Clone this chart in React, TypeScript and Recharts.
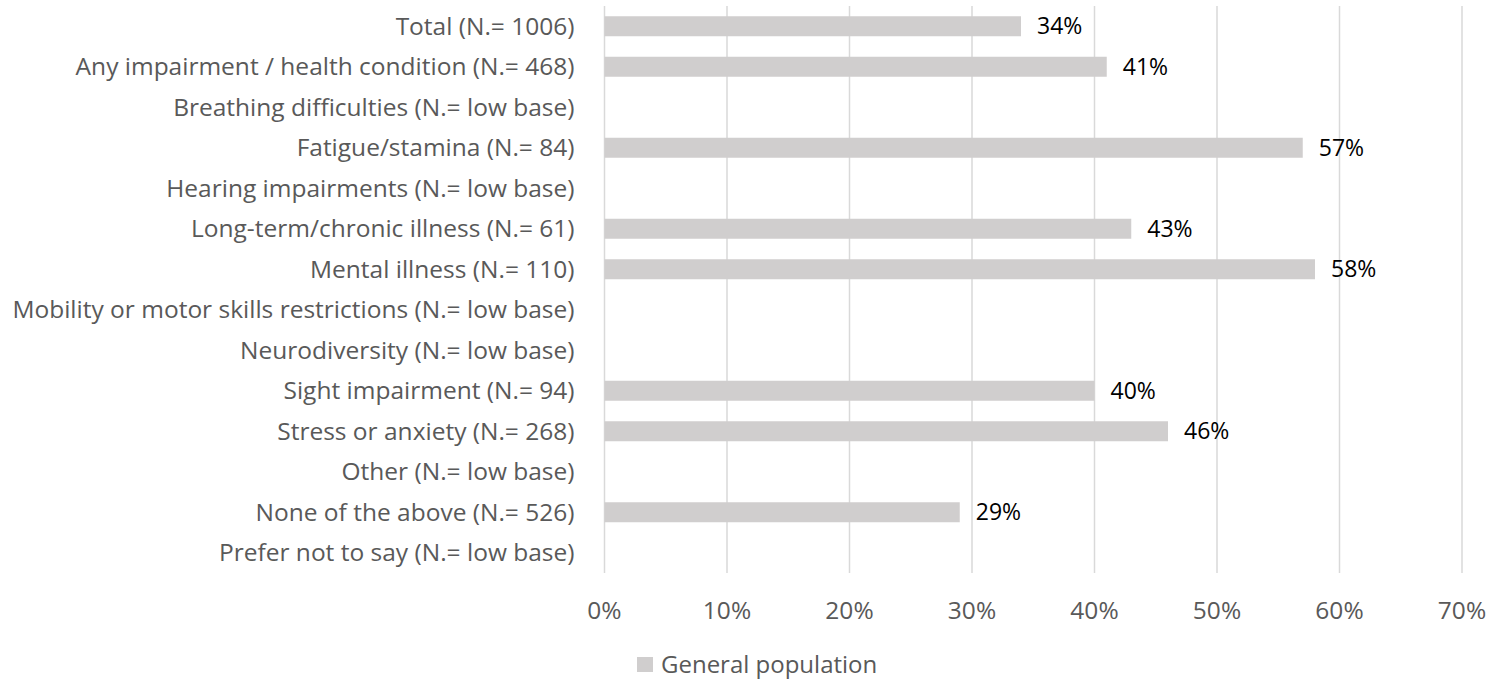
import React from 'react';
import { BarChart, Bar, XAxis, YAxis, CartesianGrid, Legend, LabelList } from 'recharts';

const categories: string[] = [
  'Total (N.= 1006)',
  'Any impairment / health condition (N.= 468)',
  'Breathing difficulties (N.= low base)',
  'Fatigue/stamina (N.= 84)',
  'Hearing impairments (N.= low base)',
  'Long-term/chronic illness (N.= 61)',
  'Mental illness (N.= 110)',
  'Mobility or motor skills restrictions (N.= low base)',
  'Neurodiversity (N.= low base)',
  'Sight impairment (N.= 94)',
  'Stress or anxiety (N.= 268)',
  'Other (N.= low base)',
  'None of the above (N.= 526)',
  'Prefer not to say (N.= low base)',
];

const generalPopulation: (number | null)[] = [34, 41, null, 57, null, 43, 58, null, null, 40, 46, null, 29, null];

const xTicks: number[] = [0, 10, 20, 30, 40, 50, 60, 70];

const seriesName = 'General population';

const data = categories.map((name, i) => ({ name, value: generalPopulation[i] }));

const FONT = '"Open Sans", sans-serif';
const BAR_COLOR = '#D0CECE';

const LegendContent = () => (
  <div style={{ display: 'flex', alignItems: 'center', fontFamily: FONT, fontSize: 24, color: '#595959', lineHeight: '30px' }}>
    <span style={{ display: 'inline-block', width: 16, height: 15, background: BAR_COLOR, marginRight: 8 }} />
    <span>{seriesName}</span>
  </div>
);

export default function App() {
  return (
    <div style={{ position: 'absolute', left: 0, top: 0, width: 1489, height: 681, background: '#fff' }}>
      <BarChart
        width={1489}
        height={681}
        data={data}
        layout="vertical"
        margin={{ top: 6, right: 27, bottom: 48, left: 0 }}
        barCategoryGap="25%"
      >
        <CartesianGrid horizontal={false} stroke="#D9D9D9" strokeWidth={1.5} />
        <XAxis
          type="number"
          domain={[0, 70]}
          ticks={xTicks}
          tickFormatter={(v: number) => `${v}%`}
          axisLine={false}
          tickLine={false}
          tickSize={0}
          tickMargin={29}
          height={60}
          interval={0}
          tick={{ fill: '#595959', fontSize: 24.5, fontFamily: FONT }}
        />
        <YAxis
          type="category"
          dataKey="name"
          width={604.5}
          axisLine={false}
          tickLine={false}
          tickSize={0}
          tickMargin={30}
          interval={0}
          tick={{ fill: '#595959', fontSize: 24.5, fontFamily: FONT }}
        />
        <Legend
          layout="horizontal"
          verticalAlign="middle"
          align="center"
          wrapperStyle={{ left: 637, top: 649, width: 320 }}
          content={<LegendContent />}
        />
        <Bar dataKey="value" name={seriesName} fill={BAR_COLOR} isAnimationActive={false}>
          <LabelList
            dataKey="value"
            position="right"
            offset={16}
            formatter={(v: any) => (v === null || v === undefined ? '' : `${v}%`)}
            style={{ fill: '#000', fontSize: 23, fontFamily: FONT }}
          />
        </Bar>
      </BarChart>
    </div>
  );
}
